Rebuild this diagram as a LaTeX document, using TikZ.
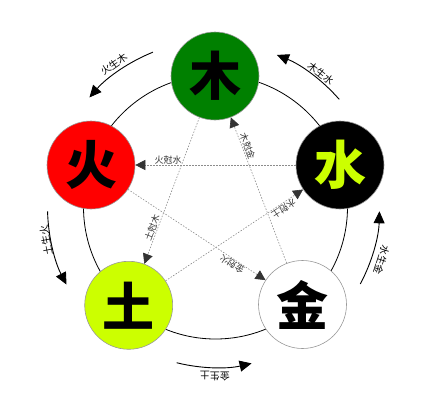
\documentclass[tikz,border=0pt]{standalone}
\usepackage{fontspec}
\newfontfamily\cjk{Noto Sans CJK SC}
\usetikzlibrary{arrows.meta}
\definecolor{limey}{RGB}{204,255,0}
\definecolor{woodgreen}{RGB}{0,128,0}
\definecolor{firered}{RGB}{255,0,0}
\begin{document}
\begin{tikzpicture}[x=1pt,y=1pt,
  elem/.style={circle,minimum size=88pt,inner sep=0pt,draw=black!40,line width=0.6pt,
    font=\cjk\bfseries\fontsize{52}{52}\selectfont},
  ke/.style={draw=black!45,line width=0.6pt,dash pattern=on 1.5pt off 1.5pt,
    -{Triangle[length=10pt,width=10pt,color=black!80]}},
  kelab/.style={font=\cjk\fontsize{9}{9}\selectfont,text=black!80,inner sep=1pt,
    sloped,above,allow upside down},
  sheng/.style={line width=0.9pt,-{Triangle[length=12pt,width=11pt]}},
  shenglab/.style={font=\cjk\fontsize{10}{10}\selectfont,inner sep=0pt}]
\useasboundingbox (0,0) rectangle (429,-413);
\coordinate (O) at (215.5,-207);
\draw[line width=0.8pt] (O) circle (132pt);
% elements
\node[elem,fill=woodgreen] (mu) at (215,-76) {木};
\node[elem,fill=black,text=limey] (shui) at (340,-165) {水};
\node[elem,fill=white] (jin) at (302.5,-304.5) {金};
\node[elem,fill=limey] (tu) at (128.7,-305.3) {土};
\node[elem,fill=firered] (huo) at (91,-165) {火};
% overcoming cycle
\draw[ke] (shui) -- (huo);
\draw[ke] (jin) -- (mu);
\draw[ke] (mu) -- (tu);
\draw[ke] (tu) -- (shui);
\draw[ke] (huo) -- (jin);
\path (huo.center) -- (shui.center) node[kelab,pos=0.31] {火尅水};
\path (mu.center) -- (jin.center) node[kelab,pos=0.315] {木尅金};
\path (tu.center) -- (mu.center) node[kelab,pos=0.33] {土尅木};
\path (shui.center) -- (tu.center) node[kelab,pos=0.28] {水尅土};
\path (jin.center) -- (huo.center) node[kelab,pos=0.32] {金尅火};
% generating cycle
\draw[sheng] ([shift={(O)}]112:167pt) arc (112:139:167pt);
\draw[sheng] ([shift={(O)}]41:164pt) arc (41:68:164pt);
\draw[sheng] ([shift={(O)}]-28:164pt) arc (-28:-1.5:164pt);
\draw[sheng] ([shift={(O)}]-104:160.5pt) arc (-104:-77:160.5pt);
\draw[sheng] ([shift={(O)}]181.5:168pt) arc (181.5:207.5:168pt);
\node[shenglab,rotate=35.4] (l1) at ([shift={(O)}]125.4:175.4pt) {火生木};
\node[shenglab,rotate=-38.2] (l2) at ([shift={(O)}]51.8:170.1pt) {木生水};
\node[shenglab,rotate=-107.7] (l3) at ([shift={(O)}]-17.7:174.3pt) {水生金};
\node[shenglab,rotate=-180.2] (l4) at ([shift={(O)}]-90.2:169pt) {金生土};
\node[shenglab,rotate=101.2] (l5) at ([shift={(O)}]191.2:172.8pt) {土生火};
\end{tikzpicture}
\end{document}
